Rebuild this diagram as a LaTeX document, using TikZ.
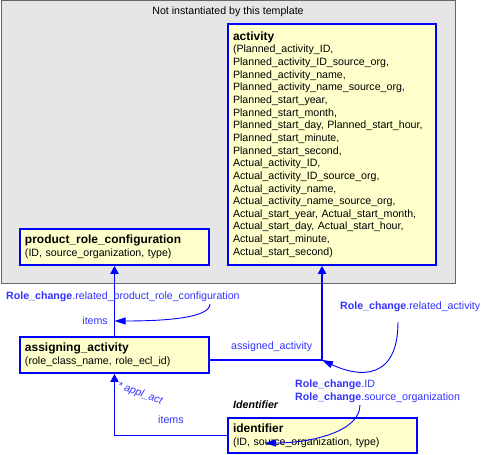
\documentclass[tikz,border=0pt]{standalone}
\usepackage{fontspec}
\setmainfont{Liberation Sans}
\usetikzlibrary{arrows.meta,positioning}
\definecolor{boxfill}{RGB}{255,255,204}
\definecolor{greyfill}{RGB}{230,230,230}
\definecolor{lblblue}{RGB}{51,51,255}
\tikzset{
  entity/.style={draw=blue, line width=1.6bp, fill=boxfill, align=left, inner xsep=5bp, inner ysep=2bp, font=\fontsize{10.67}{12.7}\selectfont},
  link/.style={draw=blue, line width=1.6bp, -{Triangle[length=8bp,width=8bp]}},
  refcurve/.style={draw=blue, line width=0.9bp, -{Triangle[length=11bp,width=7bp]}},
  note/.style={text=lblblue, inner sep=0pt, font=\fontsize{10.67}{12.7}\selectfont},
}
\newcommand{\rolechg}{\textbf{Role\_change}}
\newcommand{\ename}[1]{{\fontsize{12}{12.7}\selectfont\bfseries #1}}
\begin{document}
\begin{tikzpicture}[x=1bp,y=-1bp]
   \useasboundingbox (0,0) rectangle (481,455);
   % template frame
   \draw[fill=greyfill, draw=black!60, line width=1bp] (1,1) rectangle (455,283);
   \node[inner sep=0pt, font=\fontsize{10.67}{12.7}\selectfont] (tmpl) at (228,12) {Not instantiated by this template};

   % entities
   \node[entity, text width=198bp, minimum height=241bp] (activity) at (332,144.5) {\ename{activity}\\(Planned\_activity\_ID,\\Planned\_activity\_ID\_source\_org,\\Planned\_activity\_name,\\Planned\_activity\_name\_source\_org,\\Planned\_start\_year,\\Planned\_start\_month,\\Planned\_start\_day, Planned\_start\_hour,\\Planned\_start\_minute,\\Planned\_start\_second,\\Actual\_activity\_ID,\\Actual\_activity\_ID\_source\_org,\\Actual\_activity\_name,\\Actual\_activity\_name\_source\_org,\\Actual\_start\_year, Actual\_start\_month,\\Actual\_start\_day, Actual\_start\_hour,\\Actual\_start\_minute,\\Actual\_start\_second)};
   \node[entity, text width=179bp, minimum height=36bp] (prc) at (114.5,247) {\ename{product\_role\_configuration}\\(ID, source\_organization, type)};
   \node[entity, text width=179bp, minimum height=36bp] (assign) at (114.5,355) {\ename{assigning\_activity}\\(role\_class\_name, role\_ecl\_id)};
   \node[entity, text width=179bp, minimum height=35bp] (ident) at (322.5,435.5) {\ename{identifier}\\(ID, source\_organization, type)};

   % relations
   \coordinate (bend) at (322,360);
   \draw[link] (assign.north) -- (prc.south);
   \draw[link] (assign.east |- bend) -- (bend) -- (bend |- activity.south);
   \draw[link] (ident.west) -| (assign.south);

   % labels
   \node[note, anchor=west] (rcprc) at (6,297) {\rolechg.related\_product\_role\_configuration};
   \node[note, anchor=east] (items1) at (108,321) {items};
   \node[note, anchor=west] (rcact) at (340,307) {\rolechg.related\_activity};
   \node[note, anchor=west] (asgact) at (231,347) {assigned\_activity};
   \node[note, anchor=west, align=left] (rcid) at (295,391.5) {\rolechg.ID\\\rolechg.source\_organization};
   \node[anchor=west, inner sep=0pt, font=\fontsize{10.67}{12.7}\selectfont\bfseries\itshape] (idlbl) at (233,405) {Identifier};
   \node[note, anchor=west] (items2) at (158,420) {items};
   \node[note, rotate=-20, font=\fontsize{10.67}{12.7}\selectfont\itshape] (applact) at (140,394) {* appl\_act};

   % reference curves
   \coordinate (from1) at (210,304);
   \coordinate (to1) at (assign.north |- items1.east);
   \draw[refcurve] (from1) .. controls (210,318) and (165,321) .. (to1);
   \coordinate (from2) at (398,322);
   \draw[refcurve] (from2) .. controls (398,380) and (360,378) .. (bend);
   \coordinate (from3) at (360,405);
   \coordinate (to3) at (265,443);
   \draw[refcurve] (from3) .. controls (360,432) and (310,443) .. (to3);
\end{tikzpicture}
\end{document}
